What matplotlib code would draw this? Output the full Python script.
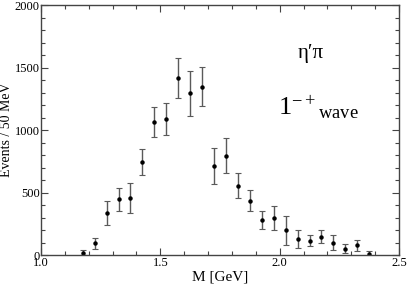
import matplotlib
matplotlib.use("Agg")

import matplotlib.pyplot as plt
from matplotlib.ticker import MultipleLocator

# ── data ──────────────────────────────────────────────────────────────────────
mass = [1.175, 1.225, 1.275, 1.325, 1.375, 1.425, 1.475, 1.525, 1.575, 1.625,
        1.675, 1.725, 1.775, 1.825, 1.875, 1.925, 1.975, 2.025, 2.075, 2.125,
        2.175, 2.225, 2.275, 2.325, 2.375]
events = [18, 94, 338, 445, 453, 747, 1064, 1085, 1413, 1293,
          1347, 715, 795, 555, 435, 280, 299, 197, 128, 115,
          147, 99, 51, 77, 5]
errors = [20, 45, 95, 90, 120, 105, 118, 128, 160, 180,
          155, 145, 140, 100, 85, 75, 97, 115, 70, 45,
          52, 58, 37, 47, 30]

SERIF = ["Liberation Serif", "DejaVu Serif"]
plt.rcParams["font.family"] = SERIF
plt.rcParams["mathtext.fontset"] = "custom"
plt.rcParams["mathtext.rm"] = "Liberation Serif"
plt.rcParams["mathtext.it"] = "Liberation Serif:italic"

fig = plt.figure(figsize=(4.09, 2.91), dpi=100)
ax = fig.add_axes([0.1002, 0.1237, 0.8754, 0.8591])

ax.errorbar(mass, events, yerr=errors, fmt="o", ms=2.2, color="black",
            ecolor="#5a5a5a", elinewidth=1.0, capsize=2.0, capthick=0.8)

ax.set_xlim(1.0, 2.5)
ax.set_ylim(0, 2000)
ax.xaxis.set_major_locator(MultipleLocator(0.5))
ax.xaxis.set_minor_locator(MultipleLocator(0.1))
ax.yaxis.set_major_locator(MultipleLocator(500))
ax.yaxis.set_minor_locator(MultipleLocator(100))
ax.xaxis.set_major_formatter(plt.FuncFormatter(lambda v, p: f"{v:.1f}"))

ax.tick_params(which="both", direction="in", top=True, right=True,
               labelsize=9, color="#444444", width=0.8)
ax.tick_params(which="major", length=5, pad=1.5)
ax.tick_params(axis="y", which="major", pad=1)
ax.tick_params(which="minor", length=3)
for s in ax.spines.values():
    s.set_color("#444444")
    s.set_linewidth(1.0)

ax.set_xlabel("M [GeV]", fontsize=11, labelpad=1)
ax.set_ylabel("Events / 50 MeV", fontsize=10)
ax.yaxis.set_label_coords(-0.078, 0.5)

ax.text(0.754, 0.806, "η′π", transform=ax.transAxes,
        fontsize=15, ha="center", va="center")
ax.text(0.661, 0.59, r"$\mathregular{1^{-+}}_{\mathregular{wave}}$",
        transform=ax.transAxes, fontsize=19, ha="left", va="center")

fig.savefig("out.png", dpi=100, facecolor="white")
